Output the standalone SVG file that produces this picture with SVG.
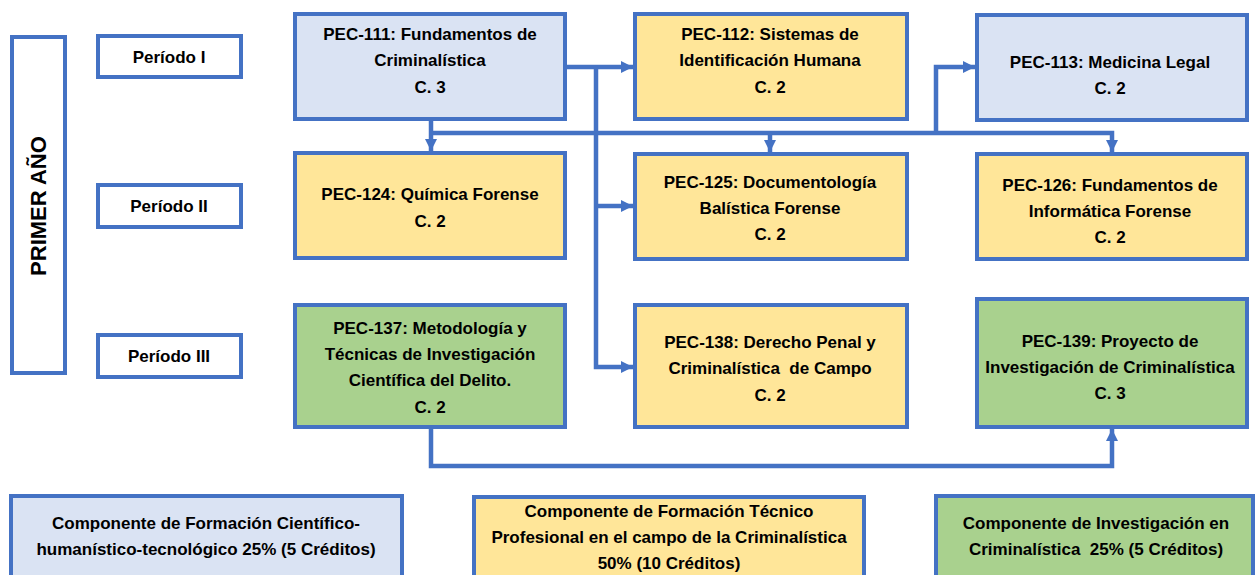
<svg xmlns="http://www.w3.org/2000/svg" width="1257" height="575" viewBox="0 0 1257 575">
<defs>
<style>
.box{stroke:#4472C4;stroke-width:4}
.w{fill:#FFFFFF}
.b{fill:#DAE3F3}
.y{fill:#FFE699}
.g{fill:#A9D18E}
.t{font-family:"Liberation Sans Narrow","Liberation Sans",Arial,sans-serif;font-weight:bold;font-size:17px;fill:#000;text-anchor:middle}
.p{font-family:"Liberation Sans",Arial,sans-serif;font-weight:bold;font-size:22px;fill:#000;text-anchor:middle}
.c{fill:none;stroke:#4472C4;stroke-width:4.5}
</style>
<marker id="ah" viewBox="0 0 10 10" refX="10" refY="5" markerWidth="12" markerHeight="14" markerUnits="userSpaceOnUse" orient="auto">
<path d="M0,0 L10,5 L0,10 z" fill="#4472C4"/>
</marker>
</defs>
<rect width="1257" height="575" fill="#FFFFFF"/>
<g id="connectors">
<path class="c" d="M566 67 H633" marker-end="url(#ah)"/>
<path class="c" d="M596 67 V367 H633" marker-end="url(#ah)"/>
<path class="c" d="M596 206 H633" marker-end="url(#ah)"/>
<path class="c" d="M431 121 V151" marker-end="url(#ah)"/>
<path class="c" d="M431 133 H1112 V152" marker-end="url(#ah)"/>
<path class="c" d="M770 133 V152" marker-end="url(#ah)"/>
<path class="c" d="M936 133 V67 H975" marker-end="url(#ah)"/>
<path class="c" d="M431 429 V466 H1112 V429" marker-end="url(#ah)"/>
</g>
<g id="primer-ano">
<rect class="box w" x="12" y="37" width="53" height="336"/>
<text class="p" transform="translate(46 206) rotate(-90)">PRIMER AÑO</text>
</g>
<g id="periodo-1">
<rect class="box w" x="98" y="36" width="143" height="41"/>
<text class="t" x="169" y="63">Período I</text>
</g>
<g id="periodo-2">
<rect class="box w" x="98" y="185" width="143" height="42"/>
<text class="t" x="169" y="212">Período II</text>
</g>
<g id="periodo-3">
<rect class="box w" x="98" y="335" width="143" height="42"/>
<text class="t" x="169" y="362">Período III</text>
</g>
<g id="pec111">
<rect class="box b" x="295" y="14" width="270" height="105"/>
<text class="t" x="430" y="40">PEC-111: Fundamentos de</text>
<text class="t" x="430" y="66">Criminalística</text>
<text class="t" x="430" y="93">C. 3</text>
</g>
<g id="pec112">
<rect class="box y" x="635" y="14" width="272" height="105"/>
<text class="t" x="770" y="40">PEC-112: Sistemas de</text>
<text class="t" x="770" y="66">Identificación Humana</text>
<text class="t" x="770" y="93">C. 2</text>
</g>
<g id="pec113">
<rect class="box b" x="977" y="15" width="270" height="105"/>
<text class="t" x="1110" y="68">PEC-113: Medicina Legal</text>
<text class="t" x="1110" y="94">C. 2</text>
</g>
<g id="pec124">
<rect class="box y" x="295" y="153" width="270" height="105"/>
<text class="t" x="430" y="200">PEC-124: Química Forense</text>
<text class="t" x="430" y="227">C. 2</text>
</g>
<g id="pec125">
<rect class="box y" x="635" y="154" width="272" height="105"/>
<text class="t" x="770" y="188">PEC-125: Documentología</text>
<text class="t" x="770" y="214">Balística Forense</text>
<text class="t" x="770" y="240">C. 2</text>
</g>
<g id="pec126">
<rect class="box y" x="977" y="154" width="270" height="105"/>
<text class="t" x="1110" y="191">PEC-126: Fundamentos de</text>
<text class="t" x="1110" y="217">Informática Forense</text>
<text class="t" x="1110" y="243">C. 2</text>
</g>
<g id="pec137">
<rect class="box g" x="295" y="305" width="270" height="122"/>
<text class="t" x="430" y="334">PEC-137: Metodología y</text>
<text class="t" x="430" y="360">Técnicas de Investigación</text>
<text class="t" x="430" y="386">Científica del Delito.</text>
<text class="t" x="430" y="413">C. 2</text>
</g>
<g id="pec138">
<rect class="box y" x="635" y="305" width="272" height="122"/>
<text class="t" x="770" y="348">PEC-138: Derecho Penal y</text>
<text class="t" x="770" y="374" xml:space="preserve">Criminalística  de Campo</text>
<text class="t" x="770" y="401">C. 2</text>
</g>
<g id="pec139">
<rect class="box g" x="977" y="299" width="270" height="128"/>
<text class="t" x="1110" y="347">PEC-139: Proyecto de</text>
<text class="t" x="1110" y="373">Investigación de Criminalística</text>
<text class="t" x="1110" y="399">C. 3</text>
</g>
<g id="comp-cientifico">
<rect class="box b" x="11" y="496" width="391" height="82"/>
<text class="t" x="206" y="529">Componente de Formación Científico-</text>
<text class="t" x="206" y="555">humanístico-tecnológico 25% (5 Créditos)</text>
</g>
<g id="comp-tecnico">
<rect class="box y" x="474" y="497" width="390" height="81"/>
<text class="t" x="669" y="517">Componente de Formación Técnico</text>
<text class="t" x="669" y="543">Profesional en el campo de la Criminalística</text>
<text class="t" x="669" y="569">50% (10 Créditos)</text>
</g>
<g id="comp-investigacion">
<rect class="box g" x="936" y="496" width="317" height="82"/>
<text class="t" x="1096" y="529">Componente de Investigación en</text>
<text class="t" x="1096" y="555" xml:space="preserve">Criminalística  25% (5 Créditos)</text>
</g>
</svg>
